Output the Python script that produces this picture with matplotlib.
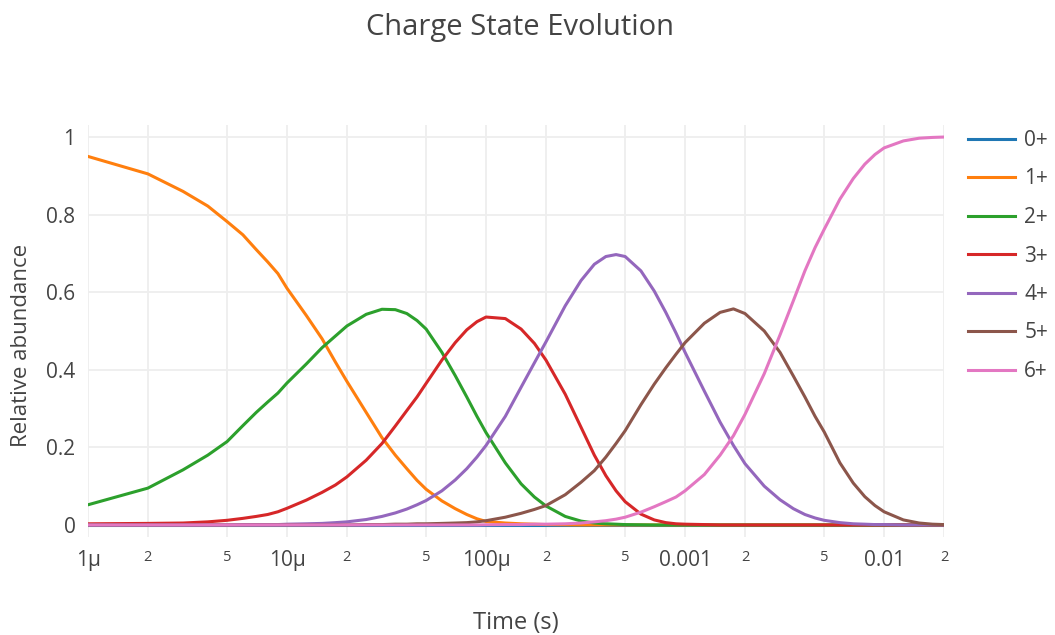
import matplotlib
matplotlib.use("Agg")
import matplotlib.pyplot as plt
from matplotlib.ticker import FixedLocator, FixedFormatter

plt.rcParams['font.family'] = ['Open Sans', 'DejaVu Sans']

# time grid (s)
time_s = [1e-6, 2e-6, 3e-6, 4e-6, 5e-6, 6e-6, 7e-6, 8e-6, 9e-6,
          1e-5, 1.25e-5, 1.5e-5, 1.75e-5, 2e-5, 2.5e-5, 3e-5, 3.5e-5, 4e-5, 4.5e-5, 5e-5, 6e-5, 7e-5, 8e-5, 9e-5,
          1e-4, 1.25e-4, 1.5e-4, 1.75e-4, 2e-4, 2.5e-4, 3e-4, 3.5e-4, 4e-4, 4.5e-4, 5e-4, 6e-4, 7e-4, 8e-4, 9e-4,
          1e-3, 1.25e-3, 1.5e-3, 1.75e-3, 2e-3, 2.5e-3, 3e-3, 3.5e-3, 4e-3, 4.5e-3, 5e-3, 6e-3, 7e-3, 8e-3, 9e-3,
          1e-2, 1.25e-2, 1.5e-2, 1.75e-2, 2e-2]

q0 = [0.0] * len(time_s)
q1 = [.95, .905, .86, .822, .782, .748, .71, .678, .648,
      .61, .54, .48, .42, .37, .29, .225, .18, .145, .115, .092, .062, .042, .027, .016,
      .009, .005, .003, .002, .001, .0005, 0, 0, 0, 0, 0, 0, 0, 0, 0,
      0, 0, 0, 0, 0, 0, 0, 0, 0, 0, 0, 0, 0, 0, 0,
      0, 0, 0, 0, 0]
q2 = [.052, .095, .142, .18, .215, .256, .29, .317, .34,
      .366, .415, .457, .487, .513, .543, .556, .555, .545, .527, .505, .445, .385, .33, .28,
      .238, .16, .106, .072, .049, .022, .01, .005, .003, .002, .001, .0005, 0, 0, 0,
      0, 0, 0, 0, 0, 0, 0, 0, 0, 0, 0, 0, 0, 0, 0,
      0, 0, 0, 0, 0]
q3 = [.003, .004, .005, .008, .012, .017, .022, .027, .034,
      .043, .064, .084, .103, .124, .167, .21, .255, .295, .33, .365, .425, .47, .503, .524,
      .536, .532, .505, .468, .425, .337, .252, .18, .127, .088, .06, .028, .013, .006, .003,
      .002, .001, 0, 0, 0, 0, 0, 0, 0, 0, 0, 0, 0, 0, 0,
      0, 0, 0, 0, 0]
q4 = [0, 0, 0, 0, 0, .001, .001, .001, .001,
      .002, .003, .004, .006, .008, .014, .022, .031, .041, .052, .063, .088, .116, .145, .175,
      .205, .28, .355, .418, .472, .565, .63, .672, .692, .697, .692, .655, .603, .548, .495,
      .445, .345, .265, .205, .158, .1, .065, .042, .027, .018, .012, .006, .003, .002, .001,
      .001, 0, 0, 0, 0]
q5 = [0, 0, 0, 0, 0, 0, 0, 0, 0,
      0, 0, 0, 0, 0, .001, .001, .002, .002, .003, .003, .004, .005, .006, .008,
      .011, .02, .03, .04, .05, .078, .11, .14, .175, .21, .243, .31, .363, .405, .44,
      .47, .52, .548, .557, .545, .5, .445, .384, .33, .28, .24, .16, .108, .073, .05,
      .034, .013, .005, .002, .001]
q6 = [0, 0, 0, 0, 0, 0, 0, 0, 0,
      0, 0, 0, 0, 0, 0, 0, 0, 0, 0, 0, 0, 0, 0, 0,
      .0005, .001, .001, .002, .002, .003, .005, .008, .011, .015, .02, .033, .047, .06, .072,
      .088, .13, .18, .23, .285, .39, .49, .578, .655, .715, .762, .84, .893, .93, .955,
      .972, .99, .997, .999, 1.0]

labels = ['0+', '1+', '2+', '3+', '4+', '5+', '6+']
colors = ['#1f77b4', '#ff7f0e', '#2ca02c', '#d62728', '#9467bd', '#8c564b', '#e377c2']

major_ticks = [1e-6, 1e-5, 1e-4, 1e-3, 1e-2]
major_labels = ['1μ', '10μ', '100μ', '0.001', '0.01']
minor_ticks = [2e-6, 5e-6, 2e-5, 5e-5, 2e-4, 5e-4, 2e-3, 5e-3, 2e-2]
minor_labels = ['2', '5', '2', '5', '2', '5', '2', '5', '2']

txt = '#444444'

fig = plt.figure(figsize=(10.55, 6.35), dpi=100, facecolor='w')
ax = fig.add_axes([88 / 1055, 1 - 536.6 / 635, (944 - 88) / 1055, (536.6 - 125.4) / 635])

for ys, lab, c in zip([q0, q1, q2, q3, q4, q5, q6], labels, colors):
    ax.plot(time_s, ys, color=c, lw=2.2, label=lab, solid_joinstyle='round')

ax.set_xscale('log')
ax.set_xlim(1e-6, 2e-2)
ax.set_ylim(-0.03, 1.03)

ax.xaxis.set_major_locator(FixedLocator(major_ticks))
ax.xaxis.set_major_formatter(FixedFormatter(major_labels))
ax.xaxis.set_minor_locator(FixedLocator(minor_ticks))
ax.xaxis.set_minor_formatter(FixedFormatter(minor_labels))
ax.set_yticks([0, 0.2, 0.4, 0.6, 0.8, 1])
ax.set_yticklabels(['0', '0.2', '0.4', '0.6', '0.8', '1'])

ax.tick_params(axis='x', which='major', length=0, pad=10, labelsize=15, labelcolor=txt)
ax.tick_params(axis='x', which='minor', length=0, pad=10, labelsize=10.5, labelcolor=txt)
ax.tick_params(axis='y', length=0, pad=9, labelsize=15, labelcolor=txt)

ax.grid(True, which='both', axis='x', color='#eeeeee', lw=1.3)
ax.grid(True, which='major', axis='y', color='#eeeeee', lw=1.3)
ax.set_axisbelow(True)
for s in ax.spines.values():
    s.set_visible(False)

fig.text(0.493, 1 - 27 / 635, 'Charge State Evolution', ha='center', va='center', fontsize=21, color=txt)
fig.text(516 / 1055, 1 - 623 / 635, 'Time (s)', ha='center', va='center', fontsize=17, color=txt)
fig.text(22 / 1055, 1 - 345 / 635, 'Relative abundance', ha='center', va='center', rotation=90, fontsize=16, color=txt)

leg = fig.legend(loc='upper left', bbox_to_anchor=(968 / 1055, 1 - 130 / 635), frameon=False,
                 fontsize=15, handlelength=2.25, handletextpad=0.45, labelspacing=0.84,
                 borderpad=0, borderaxespad=0)
for t in leg.get_texts():
    t.set_color(txt)

fig.savefig('out.png', dpi=100, facecolor='w')
